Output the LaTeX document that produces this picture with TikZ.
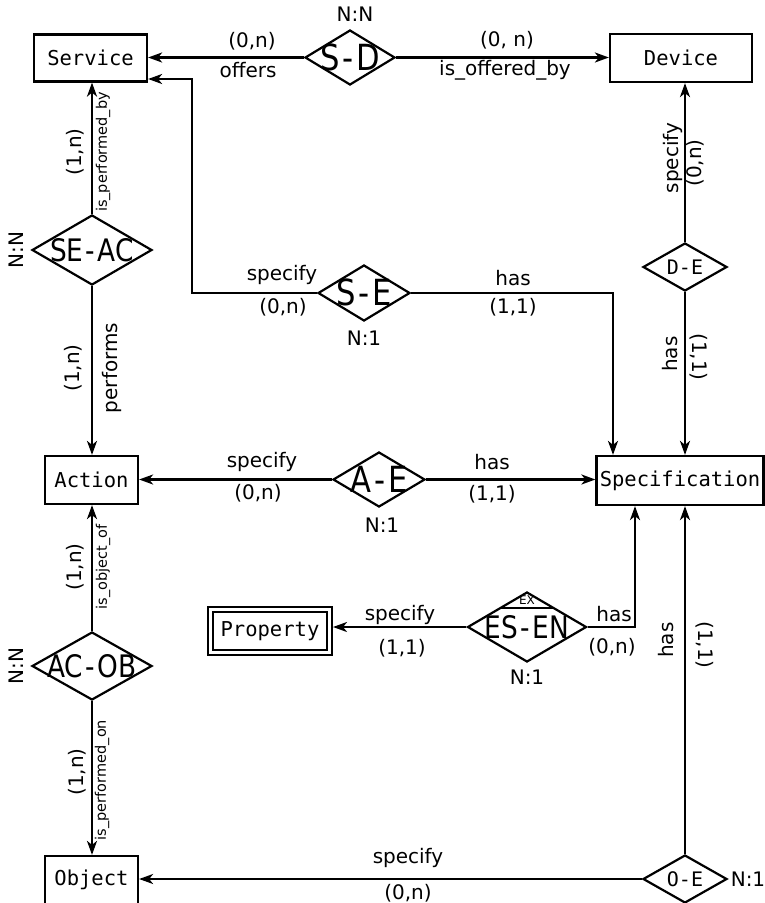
\documentclass[tikz,border=0pt]{standalone}
\usepackage{fontspec}
\setmainfont{DejaVu Sans}
\setmonofont{DejaVu Sans Mono}
\newfontfamily\dfont[FakeStretch=0.85]{DejaVu Sans}
\usetikzlibrary{shapes.geometric,arrows.meta,calc}
\newcommand\dtext[1]{\smash{\makebox[0pt]{\raisebox{-0.36em}{#1}}}}
\newcommand\hy{\kern0.08em-\kern0.08em}
\tikzset{
  ent/.style={draw, line width=2.2pt, inner sep=0pt, font=\ttfamily\fontsize{20.5}{24}\selectfont},
  rel/.style={draw, diamond, line width=2.2pt, inner sep=0pt},
  bigrel/.style={rel, font=\dfont\fontsize{36}{40}\selectfont},
  midrel/.style={rel, font=\dfont\fontsize{31}{36}\selectfont},
  smallrel/.style={rel, font=\ttfamily\fontsize{20}{24}\selectfont},
  lab/.style={font=\fontsize{20}{24}\selectfont, inner sep=0pt},
  slab/.style={font=\fontsize{14.5}{17}\selectfont, inner sep=0pt},
  conn/.style={line width=2.2pt},
  arr/.style={conn, -{Stealth[length=14pt,width=10pt,inset=4pt]}},
}
\begin{document}
\begin{tikzpicture}[x=1pt,y=-1pt]
\useasboundingbox (0,0) rectangle (765,903);
\clip (0,0) rectangle (765,903);
\fill[white] (0,0) rectangle (765,903);
% entities
\node[ent, minimum width=113pt, minimum height=47pt] (service) at (90.5,58) {Service};
\node[ent, minimum width=142pt, minimum height=48pt] (device) at (681,58) {Device};
\node[ent, minimum width=93pt, minimum height=48pt] (action) at (91.5,480) {Action};
\node[ent, minimum width=167pt, minimum height=49pt] (spec) at (680,480.5) {Specification};
\node[ent, line width=1.9pt, double, double distance=3.2pt, outer sep=3.5pt, minimum width=119pt, minimum height=43pt] (property) at (270,631) {Property};
\node[ent, minimum width=93pt, minimum height=48pt] (object) at (91.5,880) {Object};
% relationships
\node[bigrel, minimum width=90pt, minimum height=55pt] (sd) at (350,57.5) {\dtext{S\hy D}};
\node[midrel, minimum width=120pt, minimum height=70pt] (seac) at (92,250) {\dtext{SE\hy AC}};
\node[bigrel, minimum width=92pt, minimum height=56pt] (se) at (364,293) {\dtext{S\hy E}};
\node[smallrel, minimum width=84pt, minimum height=48pt] (de) at (685,267) {\dtext{D-E}};
\node[bigrel, minimum width=92pt, minimum height=55pt] (ae) at (379,479.5) {\dtext{A\hy E}};
\node[midrel, minimum width=119pt, minimum height=70pt] (esen) at (527,627) {\dtext{ES\hy EN}};
\node[midrel, minimum width=120pt, minimum height=68pt] (acob) at (92,666) {\dtext{AC\hy OB}};
\node[smallrel, minimum width=84pt, minimum height=48pt] (oe) at (685,879) {\dtext{O-E}};
\draw[conn] ([shift={(-26,-19)}]esen.center) -- ([shift={(26,-19)}]esen.center);
\node[font=\fontsize{12}{14}\selectfont, inner sep=0pt] (ex) at (527,600) {EX};
% coordinates for bends
\coordinate (c1) at (192,79);
\coordinate (c2) at (613,293);
\coordinate (c3) at (635,627);
% connectors
\draw[arr] (sd.west) -- (sd.west -| service.east);
\draw[arr] (sd.east) -- (sd.east -| device.west);
\draw[arr] (se.west) -| (c1) -- (c1 -| service.east);
\draw[arr] (seac.north) -- (seac.north |- service.south);
\draw[arr] (seac.south) -- (seac.south |- action.north);
\draw[arr] (se.east) -- (c2) -- (c2 |- spec.north);
\draw[arr] (de.north) -- (de.north |- device.south);
\draw[arr] (de.south) -- (de.south |- spec.north);
\draw[arr] (ae.west) -- (ae.west -| action.east);
\draw[arr] (ae.east) -- (ae.east -| spec.west);
\draw[arr] (acob.north) -- (acob.north |- action.south);
\draw[arr] (acob.south) -- (acob.south |- object.north);
\draw[arr] (esen.west) -- (esen.west -| property.east);
\draw[arr] (esen.east) -- (c3) -- (c3 |- spec.south);
\draw[arr] (oe.west) -- (oe.west -| object.east);
\draw[arr] (oe.north) -- (oe.north |- spec.south);
% labels
\node[lab] (l1) at (355,14) {N:N};
\node[lab] (l2) at (252,41) {(0,n)};
\node[lab] (l3) at (248,70) {offers};
\node[lab] (l4) at (507,40) {(0, n)};
\node[lab] (l5) at (505,70) {is\_offered\_by};
\node[lab, rotate=90] (l6) at (75,152) {(1,n)};
\node[slab, rotate=90] (l7) at (103,152) {is\_performed\_by};
\node[lab, rotate=90] (l8) at (16,250) {N:N};
\node[lab, rotate=90] (l9) at (73,368) {(1,n)};
\node[lab, rotate=90] (l10) at (112,368) {performs};
\node[lab] (l11) at (282,275) {specify};
\node[lab] (l12) at (283,307) {(0,n)};
\node[lab] (l13) at (513,278) {has};
\node[lab] (l14) at (513,307) {(1,1)};
\node[lab] (l15) at (364,338) {N:1};
\node[lab, rotate=90] (l16) at (673,158) {specify};
\node[lab, rotate=90] (l17) at (695,163) {(0,n)};
\node[lab, rotate=90] (l18) at (670,354) {has};
\node[lab, rotate=-90] (l19) at (699,357) {(1,1)};
\node[lab] (l20) at (262,462) {specify};
\node[lab] (l21) at (258,493) {(0,n)};
\node[lab] (l22) at (492,462) {has};
\node[lab] (l23) at (492,494) {(1,1)};
\node[lab] (l24) at (382,525) {N:1};
\node[lab, rotate=90] (l25) at (75,567) {(1,n)};
\node[slab, rotate=90] (l26) at (103,567) {is\_object\_of};
\node[lab, rotate=90] (l27) at (16,666) {N:N};
\node[lab, rotate=90] (l28) at (77,772) {(1,n)};
\node[slab, rotate=90] (l29) at (102,780) {is\_performed\_on};
\node[lab] (l30) at (400,615) {specify};
\node[lab] (l31) at (402,648) {(1,1)};
\node[lab] (l32) at (614,614) {has};
\node[lab] (l33) at (612,647) {(0,n)};
\node[lab] (l34) at (527,677) {N:1};
\node[lab, rotate=90] (l35) at (666,640) {has};
\node[lab, rotate=-90] (l36) at (705,645) {(1,1)};
\node[lab] (l37) at (408,858) {specify};
\node[lab] (l38) at (408,893) {(0,n)};
\node[lab] (l39) at (748,879) {N:1};
\end{tikzpicture}
\end{document}
